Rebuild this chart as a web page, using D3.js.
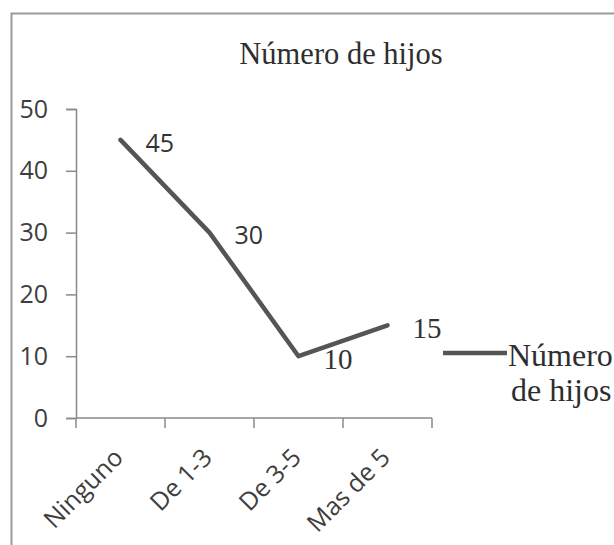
<!DOCTYPE html>
<html>
<head>
<meta charset="utf-8">
<script src="https://cdn.jsdelivr.net/npm/d3@7"></script>
<style>
  html, body { margin: 0; padding: 0; background: #fff; }
  svg { display: block; }
</style>
</head>
<body>
<svg id="chart" width="614" height="545"></svg>
<script>
// Number of children per respondent group
const categories = ["Ninguno", "De 1-3", "De 3-5", "Mas de 5"];
const values = [45, 30, 10, 15];
const yTicks = [0, 10, 20, 30, 40, 50];
const seriesName = "Número de hijos";
const titleText = "Número de hijos";

const svg = d3.select("#chart");
const W = 614, H = 545;

const sans = "'Open Sans', 'DejaVu Sans', sans-serif";
const serif = "'Liberation Serif', 'Times New Roman', serif";
const lineColor = "#555555";
const axisColor = "#8a8a8a";
const textColor = "#3e3e3e";

// chart frame
svg.append("rect")
  .attr("x", 11.5).attr("y", 13.5)
  .attr("width", W + 20).attr("height", H + 20)
  .attr("fill", "#fff")
  .attr("stroke", "#9a9a9a").attr("stroke-width", 2);

// plot area
const plot = { left: 76, right: 432, top: 109, bottom: 418 };

const x = d3.scaleBand()
  .domain(categories)
  .range([plot.left, plot.right]);

const y = d3.scaleLinear()
  .domain([0, 50])
  .range([plot.bottom, plot.top]);

// title
svg.append("text")
  .attr("x", 341).attr("y", 64)
  .attr("text-anchor", "middle")
  .attr("font-family", serif)
  .attr("font-size", 30.5)
  .attr("fill", "#2e2e2e")
  .text(titleText);

// y axis
const yAxis = svg.append("g")
  .attr("transform", `translate(${plot.left},0)`)
  .call(d3.axisLeft(y).tickValues(yTicks).tickSize(10).tickPadding(18).tickFormat(d3.format("d")));
yAxis.select(".domain").attr("stroke", axisColor).attr("stroke-width", 1.5);
yAxis.selectAll(".tick line").attr("stroke", axisColor).attr("stroke-width", 1.5);
yAxis.selectAll(".tick text")
  .attr("font-family", sans).attr("font-size", 25).attr("fill", textColor);

// x axis with ticks at category boundaries
const boundaries = categories.map(c => x(c)).concat([plot.right]);
const xg = svg.append("g");
xg.append("line")
  .attr("x1", plot.left).attr("x2", plot.right)
  .attr("y1", plot.bottom).attr("y2", plot.bottom)
  .attr("stroke", axisColor).attr("stroke-width", 1.5);
xg.selectAll("line.tk")
  .data(boundaries)
  .join("line")
  .attr("class", "tk")
  .attr("x1", d => d).attr("x2", d => d)
  .attr("y1", plot.bottom).attr("y2", plot.bottom + 10)
  .attr("stroke", axisColor).attr("stroke-width", 1.5);

// rotated category labels
xg.selectAll("text.cat")
  .data(categories)
  .join("text")
  .attr("class", "cat")
  .attr("transform", d => `translate(${x(d) + x.bandwidth() / 2 - 2},${plot.bottom + 35}) rotate(-45)`)
  .attr("text-anchor", "end")
  .attr("dy", "0.35em")
  .attr("font-family", sans)
  .attr("font-size", 25)
  .attr("fill", textColor)
  .text(d => d);

// series line
const data = categories.map((c, i) => ({ c, v: values[i] }));
const line = d3.line()
  .x(d => x(d.c) + x.bandwidth() / 2)
  .y(d => y(d.v));

svg.append("path")
  .datum(data)
  .attr("d", line)
  .attr("fill", "none")
  .attr("stroke", lineColor)
  .attr("stroke-width", 4.5)
  .attr("stroke-linejoin", "round")
  .attr("stroke-linecap", "round");

// value labels, to the right of each point
svg.selectAll("text.val")
  .data(data)
  .join("text")
  .attr("class", "val")
  .attr("x", d => x(d.c) + x.bandwidth() / 2 + 25)
  .attr("y", d => y(d.v) + 3)
  .attr("dy", "0.35em")
  .attr("font-family", (d, i) => i < 2 ? sans : serif)
  .attr("font-size", (d, i) => i < 2 ? 25 : 29)
  .attr("fill", "#333")
  .text(d => d.v);

// legend
const lg = svg.append("g");
lg.append("line")
  .attr("x1", 443).attr("x2", 507)
  .attr("y1", 353).attr("y2", 353)
  .attr("stroke", lineColor).attr("stroke-width", 4.5);
const words = seriesName.split(" ");
lg.append("text")
  .attr("x", 508).attr("y", 366)
  .attr("font-family", serif).attr("font-size", 32).attr("fill", "#2e2e2e")
  .text(words[0]);
lg.append("text")
  .attr("x", 511).attr("y", 401)
  .attr("font-family", serif).attr("font-size", 32).attr("fill", "#2e2e2e")
  .text(words.slice(1).join(" "));
</script>
</body>
</html>
